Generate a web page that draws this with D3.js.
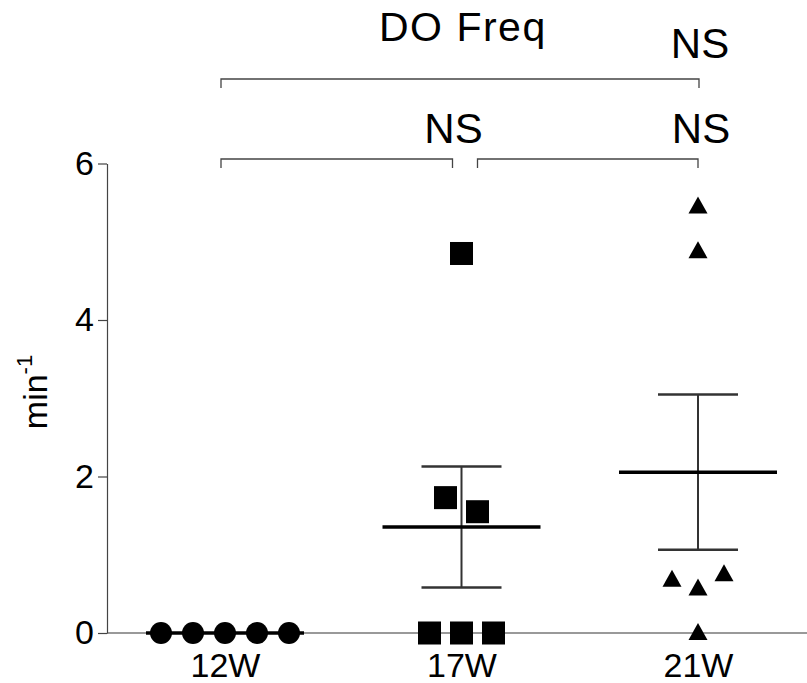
<!DOCTYPE html>
<html><head><meta charset="utf-8">
<script src="https://cdn.jsdelivr.net/npm/d3@7"></script>
<style>body{margin:0;background:#fff;} text{font-family:"Liberation Sans",Arial,sans-serif;fill:#000;}</style>
</head><body>
<svg id="c" width="807" height="683"></svg>
<script>
const categories = ["12W", "17W", "21W"];
const values12W = [0, 0, 0, 0, 0];
const values17W = [4.85, 1.73, 1.55, 0, 0, 0];
const values21W = [5.45, 4.88, 0.68, 0.57, 0.75, 0];
const yTicks = [0, 2, 4, 6];
const title = "DO Freq";
const comparisons = [
  {from: "12W", to: "21W", label: "NS", level: 1},
  {from: "12W", to: "17W", label: "NS", level: 0},
  {from: "17W", to: "21W", label: "NS", level: 0}
];

const series = [
  {cat: "12W", values: values12W, shape: "circle"},
  {cat: "17W", values: values17W, shape: "square"},
  {cat: "21W", values: values21W, shape: "triangle"}
];

const FONT = "Liberation Sans, Arial, sans-serif";
const svg = d3.select("#c");
const x = d3.scalePoint().domain(categories).range([225, 698]);
const y = d3.scaleLinear().domain([0, 6]).range([633, 163.5]);
const axisX = 107;

// baseline
svg.append("line").attr("x1", axisX).attr("x2", 807).attr("y1", y(0)).attr("y2", y(0))
  .attr("stroke", "#777").attr("stroke-width", 1.5);

// y axis
const gy = svg.append("g").attr("transform", `translate(${axisX},0)`)
  .call(d3.axisLeft(y).tickValues(yTicks).tickFormat(d3.format("d")).tickSize(9).tickSizeOuter(0).tickPadding(4));
gy.select(".domain").attr("stroke", "#444").attr("stroke-width", 1.2);
gy.selectAll(".tick line").attr("stroke", "#444").attr("stroke-width", 1.2);
gy.selectAll(".tick text").attr("font-size", 34).attr("font-family", FONT).attr("fill", "#000");

// x axis labels
const gx = svg.append("g").attr("transform", `translate(0,${y(0)})`)
  .call(d3.axisBottom(x).tickSize(0).tickPadding(0));
gx.select(".domain").remove();
gx.selectAll(".tick text").attr("font-size", 34).attr("font-family", FONT).attr("fill", "#000")
  .attr("y", 44).attr("dy", null);

// y label
const yl = svg.append("text").attr("transform", "translate(47,392) rotate(-90)")
  .attr("text-anchor", "middle").attr("font-size", 34);
yl.append("tspan").text("min");
yl.append("tspan").text("-1").attr("font-size", 22).attr("dy", -15);

// title
svg.append("text").attr("x", 379).attr("y", 41).attr("text-anchor", "start").attr("font-size", 41)
  .attr("letter-spacing", 1.5).text(title);

// error bars & means
series.forEach(s => {
  const m = d3.mean(s.values);
  const sem = s.values.length > 1 ? d3.deviation(s.values) / Math.sqrt(s.values.length) : 0;
  const cx = x(s.cat);
  const g = svg.append("g");
  if (sem > 0) {
    g.append("line").attr("x1", cx).attr("x2", cx).attr("y1", y(m + sem)).attr("y2", y(m - sem)).attr("stroke", "#333").attr("stroke-width", 2);
    [m + sem, m - sem].forEach(v => g.append("line").attr("x1", cx - 40).attr("x2", cx + 40).attr("y1", y(v)).attr("y2", y(v)).attr("stroke", "#333").attr("stroke-width", 2.5));
  }
  g.append("line").attr("x1", cx - 79).attr("x2", cx + 79).attr("y1", y(m)).attr("y2", y(m)).attr("stroke", "#000").attr("stroke-width", 3.5);
});

// points with dodge
const spacing = {circle: 32, square: 32, triangle: 26};
series.forEach(s => {
  const cx = x(s.cat);
  const groups = [];
  s.values.forEach((v, i) => {
    const gp = groups.find(gr => gr.some(p => Math.abs(y(p.v) - y(v)) < 30));
    if (gp) gp.push({v, i}); else groups.push([{v, i}]);
  });
  const pts = [];
  groups.forEach(gr => gr.forEach((p, k) => pts.push({v: p.v, px: cx + (k - (gr.length - 1) / 2) * spacing[s.shape]})));
  const g = svg.append("g");
  pts.forEach(p => {
    const py = y(p.v);
    if (s.shape === "circle") g.append("circle").attr("cx", p.px).attr("cy", py).attr("r", 11).attr("fill", "#000");
    else if (s.shape === "square") g.append("rect").attr("x", p.px - 11.5).attr("y", py - 11.5).attr("width", 23).attr("height", 23).attr("fill", "#000");
    else g.append("path").attr("d", `M${p.px},${py - 10} L${p.px + 9.5},${py + 7} L${p.px - 9.5},${py + 7} Z`).attr("fill", "#000");
  });
});

// comparison brackets
const levelY = [159, 79];
comparisons.forEach(c => {
  let x1 = x(c.from) - 4, x2 = x(c.to);
  if (c.level === 0) {
    if (c.from === "17W") x1 = x(c.from) + 16; else x2 = x(c.to) - 9;
  }
  if (c.level === 1) x2 += 1;
  const by = levelY[c.level];
  svg.append("path").attr("d", `M${x1},${by + 9} V${by} H${x2} V${by + 9}`)
    .attr("fill", "none").attr("stroke", "#444").attr("stroke-width", 1.3);
  const tx = c.level === 0 && c.from === "17W" ? x2 + 3 : x2 + 1;
  svg.append("text").attr("x", tx).attr("y", c.level === 1 ? by - 21 : by - 16).attr("text-anchor", "middle").attr("font-size", 42).text(c.label);
});
</script>
</body></html>
